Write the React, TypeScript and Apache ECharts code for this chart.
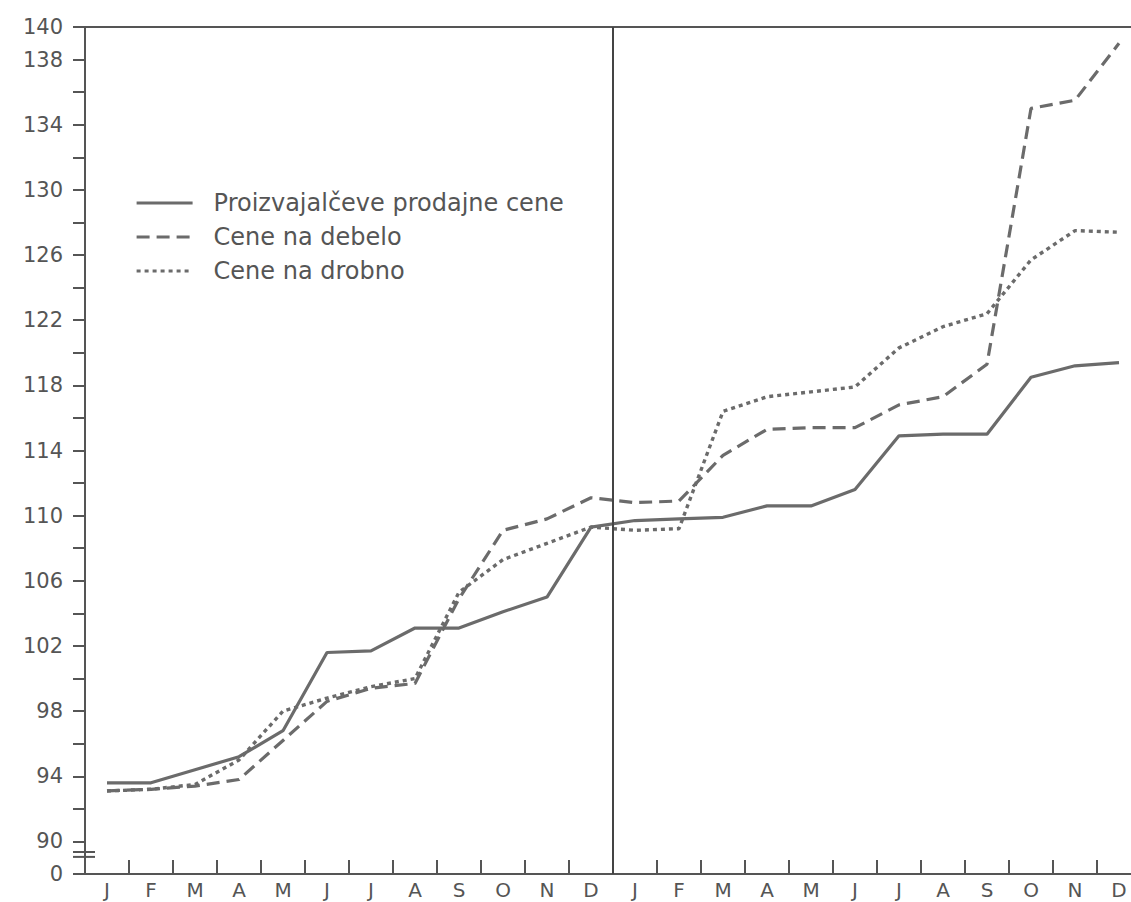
import React, { useEffect, useRef } from "react";
import * as echarts from "echarts";

const months = ["J", "F", "M", "A", "M", "J", "J", "A", "S", "O", "N", "D", "J", "F", "M", "A", "M", "J", "J", "A", "S", "O", "N", "D"];

const producerPrices = [93.6, 93.6, 94.4, 95.2, 96.8, 101.6, 101.7, 103.1, 103.1, 104.1, 105.0, 109.3, 109.7, 109.8, 109.9, 110.6, 110.6, 111.6, 114.9, 115.0, 115.0, 118.5, 119.2, 119.4];
const wholesalePrices = [93.1, 93.2, 93.4, 93.8, 96.2, 98.6, 99.4, 99.7, 104.9, 109.1, 109.8, 111.1, 110.8, 110.9, 113.7, 115.3, 115.4, 115.4, 116.8, 117.3, 119.3, 135.0, 135.5, 139.0];
const retailPrices = [93.1, 93.2, 93.5, 95.0, 98.0, 98.8, 99.5, 100.0, 105.3, 107.3, 108.3, 109.3, 109.1, 109.2, 116.4, 117.3, 117.6, 117.9, 120.3, 121.6, 122.4, 125.7, 127.5, 127.4];

const seriesNames = ["Proizvajalčeve prodajne cene", "Cene na debelo", "Cene na drobno"];

// boundary between the two years (in months from the start)
const yearBoundary = 12;

const yMin = 88;
const yMax = 140;
const yStep = 2;

const ink = "#555555";
const lineInk = "#6b6b6b";
const font = "DejaVu Sans";

export default function App() {
  const ref = useRef<HTMLDivElement>(null);

  useEffect(() => {
    if (!ref.current) return;
    const chart = echarts.init(ref.current, undefined, { renderer: "svg" });
    chart.setOption({
      animation: false,
      backgroundColor: "#ffffff",
      grid: { left: 85, top: 27, width: 1056, height: 847, show: false },
      legend: {
        orient: "vertical",
        left: 130,
        top: 184,
        itemWidth: 56,
        itemHeight: 14,
        itemGap: 6,
        selectedMode: false,
        itemStyle: { opacity: 0 },
        lineStyle: { width: 3.2 },
        textStyle: { fontFamily: font, fontSize: 24, color: ink, lineHeight: 28, padding: [0, 0, 0, 16] },
        data: seriesNames,
      },
      xAxis: [
        {
          type: "category",
          data: months,
          boundaryGap: true,
          axisLine: { show: true, lineStyle: { color: ink, width: 2 } },
          axisTick: { show: true, inside: true, length: 14, interval: 0, lineStyle: { color: ink, width: 2 } },
          axisLabel: { interval: 0, fontFamily: font, fontSize: 20, color: ink, margin: 6 },
          splitLine: { show: false },
        },
        {
          type: "category",
          data: months,
          position: "top",
          axisLine: { show: true, lineStyle: { color: ink, width: 2 } },
          axisTick: { show: false },
          axisLabel: { show: false },
        },
        {
          type: "value",
          min: 0,
          max: months.length,
          show: false,
        },
      ],
      yAxis: {
        type: "value",
        min: yMin,
        max: yMax,
        interval: yStep,
        axisLine: { show: true, lineStyle: { color: ink, width: 2 } },
        axisTick: { show: true, length: 12, lineStyle: { color: ink, width: 2 } },
        splitLine: { show: false },
        axisLabel: {
          fontFamily: font,
          fontSize: 21,
          color: ink,
          margin: 22,
          showMinLabel: true,
          showMaxLabel: true,
          formatter: (v: number) => {
            if (v === yMin) return "0";
            if (v === yMax) return String(v);
            if ((v - 90) % 4 === 0) return String(v);
            return "";
          },
        },
      },
      series: [
        {
          name: seriesNames[0],
          type: "line",
          data: producerPrices,
          symbol: "none",
          lineStyle: { color: lineInk, width: 3.2 },
          itemStyle: { color: lineInk },
        },
        {
          name: seriesNames[1],
          type: "line",
          data: wholesalePrices,
          symbol: "none",
          lineStyle: { color: lineInk, width: 3.2, type: [13, 7] },
          itemStyle: { color: lineInk },
        },
        {
          name: seriesNames[2],
          type: "line",
          data: retailPrices,
          symbol: "none",
          lineStyle: { color: lineInk, width: 3.4, type: [4, 4] },
          itemStyle: { color: lineInk },
        },
        {
          name: "divider",
          type: "line",
          xAxisIndex: 2,
          data: [],
          silent: true,
          markLine: {
            silent: true,
            symbol: ["none", "none"],
            label: { show: false },
            lineStyle: { type: "solid", color: "#444444", width: 2 },
            data: [{ xAxis: yearBoundary }],
          },
        },
      ],
    });

    const p1 = chart.convertToPixel({ gridIndex: 0 }, [0, 89.35]) as number[];
    const p2 = chart.convertToPixel({ gridIndex: 0 }, [0, 89.05]) as number[];
    const axisX = (chart.convertToPixel({ xAxisIndex: 0 }, 0) as unknown as number) - 22;
    chart.setOption({
      graphic: [
        { type: "line", shape: { x1: axisX - 12, y1: p1[1], x2: axisX + 10, y2: p1[1] }, style: { stroke: ink, lineWidth: 2 } },
        { type: "line", shape: { x1: axisX - 12, y1: p2[1], x2: axisX + 10, y2: p2[1] }, style: { stroke: ink, lineWidth: 2 } },
      ],
    });

    return () => chart.dispose();
  }, []);

  return (
    <div style={{ position: "absolute", left: 0, top: 0, width: 1131, height: 902, overflow: "hidden", background: "#ffffff" }}>
      <div ref={ref} style={{ width: 1160, height: 902 }} />
    </div>
  );
}
